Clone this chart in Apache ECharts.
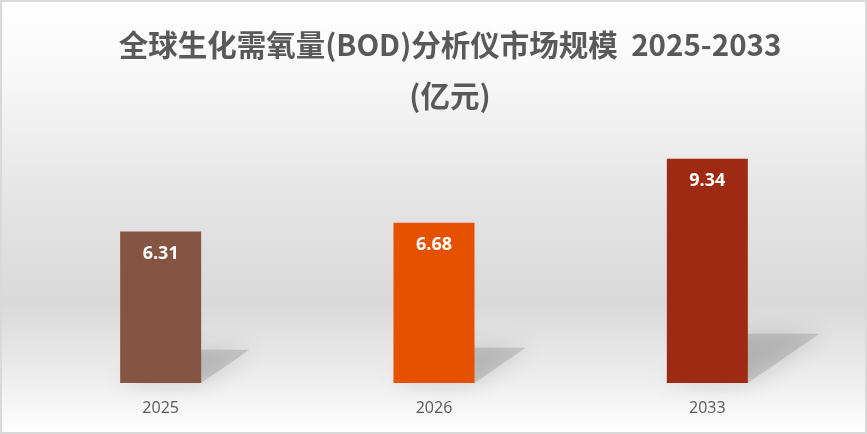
<!DOCTYPE html>
<html><head><meta charset="utf-8">
<script src="https://cdn.jsdelivr.net/npm/echarts@6/dist/echarts.min.js"></script>
<style>html,body{margin:0;padding:0;}#c{width:867px;height:434px;}</style>
</head><body><div id="c"></div>
<script>
const categories = ['2025', '2026', '2033'];
const values = [6.31, 6.68, 9.34];
const barColors = ['#855442', '#E65100', '#9E2A14'];
const titleText = '全球生化需氧量(BOD)分析仪市场规模  2025-2033\n(亿元)';

const chart = echarts.init(document.getElementById('c'));
const option = {
  backgroundColor: {
    type: 'linear', x: 0, y: 0, x2: 0, y2: 1,
    colorStops: [
      {offset: 0, color: '#ffffff'},
      {offset: 0.15, color: '#f9f9f9'},
      {offset: 0.45, color: '#e5e5e5'},
      {offset: 0.7, color: '#d9d9d9'},
      {offset: 0.87, color: '#ededed'},
      {offset: 1, color: '#ffffff'}
    ]
  },
  title: {
    text: titleText,
    left: 445, textAlign: 'center', top: 14,
    textStyle: {
      fontFamily: '"Noto Sans CJK SC", sans-serif',
      fontSize: 29.5, fontWeight: 'bold', color: '#595959', lineHeight: 51
    }
  },
  graphic: [{
    type: 'rect', silent: true, z: 100,
    shape: {x: 1, y: 1, width: 865, height: 432},
    style: {fill: 'none', stroke: '#d9d9d9', lineWidth: 2}
  }],
  grid: {left: 24, right: 23, top: 143, bottom: 51},
  xAxis: {
    type: 'category', data: categories,
    axisLine: {show: false}, axisTick: {show: false},
    axisLabel: {color: '#595959', fontSize: 16, margin: 17, fontFamily: '"Open Sans", sans-serif'}
  },
  yAxis: {type: 'value', min: 0, max: 10, show: false, splitLine: {show: false}},
  series: [
    {
      type: 'custom', z: 1, silent: true,
      data: values.map((v, i) => [i, v]),
      renderItem: function (params, api) {
        const base = api.coord([api.value(0), 0]);
        const top = api.coord([api.value(0), api.value(1)]);
        const w = api.size([1, 0])[0] * 0.296;
        const h = base[1] - top[1];
        const x0 = base[0] - w / 2, x1 = base[0] + w / 2;
        const dx = h * 0.32, dy = h * 0.22;
        return {
          type: 'polygon',
          shape: {points: [[x0, base[1]], [x1, base[1]], [x1 + dx, base[1] - dy], [x0 + dx, base[1] - dy]]},
          style: {
            fill: 'rgba(140,140,140,0.35)',
            shadowBlur: 22, shadowColor: 'rgba(100,100,100,0.7)'
          }
        };
      }
    },
    {
      type: 'bar', z: 2,
      data: values.map((v, i) => ({value: v, itemStyle: {color: barColors[i]}})),
      barWidth: 81,
      label: {
        show: true, position: 'insideTop', distance: 13,
        color: '#ffffff', fontSize: 18, fontWeight: 'bold',
        fontFamily: '"Open Sans", sans-serif',
        formatter: p => p.value.toFixed(2)
      }
    }
  ]
};
chart.setOption(option);
</script></body></html>
